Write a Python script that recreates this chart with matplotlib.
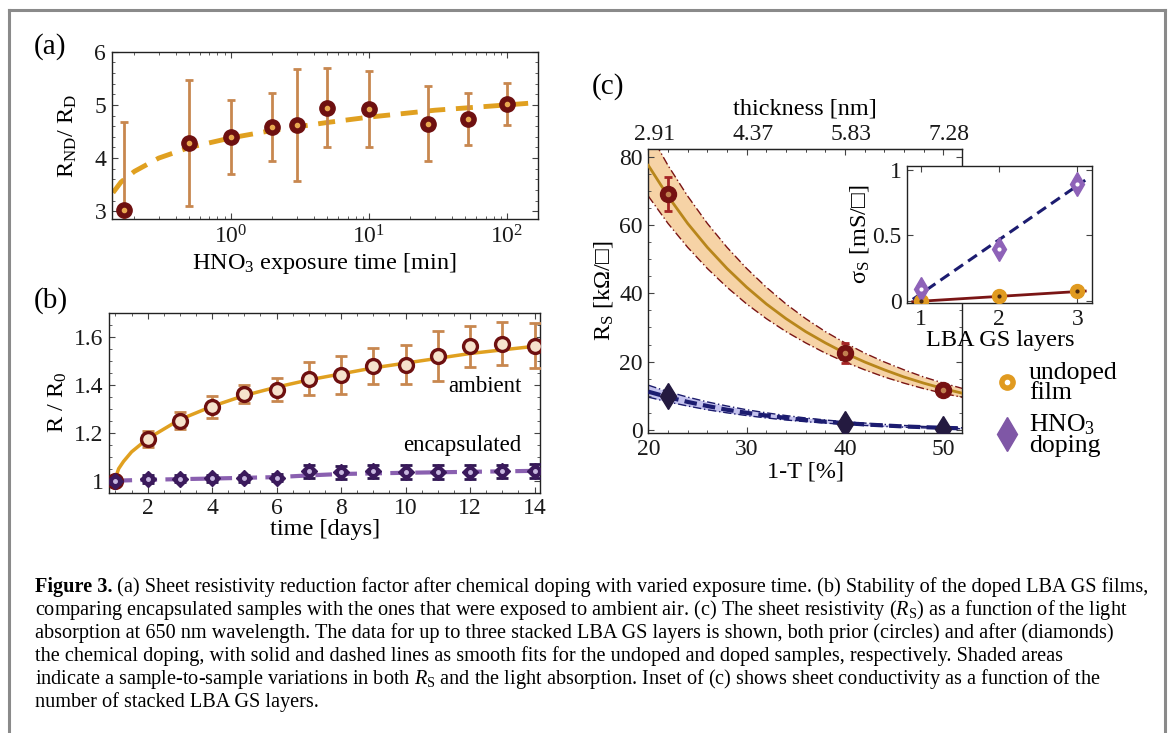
import numpy as np
import matplotlib
matplotlib.use('Agg')
import matplotlib.pyplot as plt
import matplotlib.transforms as mtransforms
from matplotlib.lines import Line2D
from matplotlib.ticker import FixedLocator, MultipleLocator, LogLocator, NullFormatter, FixedFormatter

plt.rcParams['font.family'] = ['Liberation Serif', 'DejaVu Sans']
plt.rcParams['mathtext.fontset'] = 'custom'
plt.rcParams['mathtext.rm'] = 'Liberation Serif'
plt.rcParams['mathtext.it'] = 'Liberation Serif:italic'
plt.rcParams['mathtext.bf'] = 'Liberation Serif:bold'

# ---------------- data ----------------
# (a) reduction factor vs HNO3 exposure time
a_time = [0.167, 0.5, 1, 2, 3, 5, 10, 27, 52, 100]
a_ratio = [3.03, 4.28, 4.40, 4.58, 4.62, 4.95, 4.92, 4.65, 4.73, 5.02]
a_err = [1.65, 1.18, 0.70, 0.64, 1.05, 0.74, 0.72, 0.70, 0.49, 0.40]
a_fit_time = [0.14, 0.16, 0.2, 0.3, 0.5, 1, 2, 5, 10, 30, 100, 160]
a_fit_ratio = [3.35, 3.55, 3.75, 4.0, 4.2, 4.38, 4.52, 4.67, 4.77, 4.9, 5.0, 5.04]

# (b) stability
b_days = [1, 2, 3, 4, 5, 6, 7, 8, 9, 10, 11, 12, 13, 14]
b_ambient = [1.0, 1.173, 1.25, 1.308, 1.36, 1.38, 1.425, 1.44, 1.478, 1.484, 1.519, 1.56, 1.571, 1.563]
b_ambient_err = [0.0, 0.033, 0.035, 0.046, 0.037, 0.048, 0.069, 0.078, 0.073, 0.082, 0.104, 0.085, 0.09, 0.095]
b_encaps = [1.0, 1.007, 1.008, 1.01, 1.01, 1.013, 1.039, 1.035, 1.039, 1.036, 1.036, 1.037, 1.039, 1.041]
b_encaps_err = [0.012, 0.015, 0.015, 0.015, 0.015, 0.015, 0.028, 0.028, 0.028, 0.028, 0.028, 0.028, 0.028, 0.028]
b_amb_fit_days = [1, 1.05, 1.1, 1.25, 1.5, 2, 3, 4, 5, 6, 7, 8, 9, 10, 11, 12, 13, 14]
b_amb_fit = [1.0, 1.03, 1.05, 1.08, 1.12, 1.175, 1.255, 1.31, 1.355, 1.39, 1.42, 1.445, 1.47, 1.49, 1.51, 1.53, 1.545, 1.56]
b_enc_fit_days = [1, 2, 4, 6, 7, 8, 10, 12, 14]
b_enc_fit = [1.0, 1.004, 1.009, 1.015, 1.022, 1.028, 1.033, 1.037, 1.041]

# (c) sheet resistance vs absorption
c_abs = [22, 40, 50]
c_undoped = [69, 22.6, 11.8]
c_undoped_err = [5, 2.9, 1.0]
c_doped = [9.8, 1.6, 0.3]
c_curve_abs = [20, 22, 24, 26, 28, 30, 32, 34, 36, 38, 40, 42, 44, 46, 48, 50, 52]
c_undoped_fit = [77.5, 68.5, 60.5, 53.5, 47.3, 41.8, 36.9, 32.6, 28.8, 25.5, 22.5, 19.9, 17.6, 15.5, 13.7, 12.1, 10.7]
c_undoped_hi = [87.7, 77.5, 68.5, 60.5, 53.5, 47.3, 41.8, 36.9, 32.6, 28.8, 25.5, 22.5, 19.9, 17.6, 15.5, 13.7, 12.1]
c_undoped_lo = [68.5, 60.5, 53.5, 47.3, 41.8, 36.9, 32.6, 28.8, 25.5, 22.5, 19.9, 17.6, 15.5, 13.7, 12.1, 10.7, 9.5]
c_doped_fit = [11.2, 9.6, 8.2, 7.0, 5.9, 5.0, 4.2, 3.5, 2.9, 2.4, 2.0, 1.6, 1.3, 1.0, 0.8, 0.6, 0.45]
c_doped_hi = [13.1, 11.2, 9.6, 8.2, 7.0, 5.9, 5.0, 4.2, 3.5, 2.9, 2.4, 2.0, 1.6, 1.3, 1.0, 0.8, 0.6]
c_doped_lo = [9.6, 8.2, 7.0, 5.9, 5.0, 4.2, 3.5, 2.9, 2.4, 2.0, 1.6, 1.3, 1.0, 0.8, 0.6, 0.45, 0.33]
c_top_ticks = [20, 30, 40, 50]
c_top_labels = ['2.91', '4.37', '5.83', '7.28']

# inset: sheet conductivity vs layers
ins_layers = [1, 2, 3]
ins_undoped = [0.005, 0.04, 0.075]
ins_doped = [0.09, 0.40, 0.89]
ins_fit_layers = [0.9, 3.1]
ins_undoped_fit = [-0.003, 0.078]
ins_doped_fit = [0.015, 0.92]

caption_lines = [
    ' (a) Sheet resistivity reduction factor after chemical doping with varied exposure time. (b) Stability of the doped LBA GS films,',
    'comparing encapsulated samples with the ones that were exposed to ambient air. (c) The sheet resistivity ($R_\\mathrm{S}$) as a function of the light',
    'absorption at 650 nm wavelength. The data for up to three stacked LBA GS layers is shown, both prior (circles) and after (diamonds)',
    'the chemical doping, with solid and dashed lines as smooth fits for the undoped and doped samples, respectively. Shaded areas',
    'indicate a sample-to-sample variations in both $R_\\mathrm{S}$ and the light absorption. Inset of (c) shows sheet conductivity as a function of the',
    'number of stacked LBA GS layers.',
]

# ---------------- figure ----------------
W, H = 1171, 733
fig = plt.figure(figsize=(W / 100, H / 100), dpi=100)


def ax_px(l, t, r, b):
    return fig.add_axes([l / W, 1 - b / H, (r - l) / W, (b - t) / H])


TICK_FS = 17
LAB_FS = 17.5


def style(ax):
    for s in ax.spines.values():
        s.set_color('#222222')
        s.set_linewidth(1.0)
    ax.tick_params(which='both', direction='in', top=True, right=True,
                   colors='#444444', labelcolor='#1a1a1a', labelsize=TICK_FS)
    ax.tick_params(which='major', length=4, width=0.8, pad=4)
    ax.tick_params(which='minor', length=2, width=0.6)


DARKRED = '#6e1010'
TAN = '#c8874f'
GOLD = '#e0a020'

# ---- (a)
axa = ax_px(111.7, 51.7, 537.7, 219.3)
style(axa)
axa.set_xscale('log')
axa.set_xlim(0.137, 167)
axa.set_ylim(2.85, 6)
axa.plot(a_fit_time, a_fit_ratio, color=GOLD, lw=3.5, dashes=(3.5, 2.2), zorder=2)
axa.errorbar(a_time, a_ratio, yerr=a_err, fmt='none', ecolor=TAN, elinewidth=2,
             capsize=3, capthick=2, zorder=3, clip_on=True)
axa.plot(a_time, a_ratio, 'o', ms=11, color=DARKRED, zorder=4)
axa.plot(a_time, a_ratio, 'o', ms=3, color='#e8a850', zorder=5)
axa.xaxis.set_major_locator(LogLocator(base=10, numticks=10))
axa.xaxis.set_minor_locator(LogLocator(base=10, subs=np.arange(2, 10), numticks=20))
axa.xaxis.set_minor_formatter(NullFormatter())
axa.yaxis.set_major_locator(MultipleLocator(1))
axa.yaxis.set_minor_locator(MultipleLocator(0.2))
axa.set_xlabel('HNO$_3$ exposure time [min]', fontsize=LAB_FS, labelpad=2)
axa.set_ylabel('R$_\\mathrm{ND}$/ R$_\\mathrm{D}$', fontsize=LAB_FS, labelpad=11)

# ---- (b)
axb = ax_px(109.3, 312.7, 540, 492.7)
style(axb)
axb.set_xlim(0.81, 14.17)
axb.set_ylim(0.95, 1.70)
axb.plot(b_amb_fit_days, b_amb_fit, color=GOLD, lw=2.5, zorder=2)
axb.plot(b_enc_fit_days, b_enc_fit, color='#8a60b0', lw=3, dashes=(4, 2), zorder=2)
axb.errorbar(b_days, b_ambient, yerr=b_ambient_err, fmt='none', ecolor=TAN,
             elinewidth=2, capsize=4, capthick=2, zorder=3)
axb.plot(b_days, b_ambient, 'o', ms=10, mfc='#f6e2cc', mec=DARKRED, mew=2.4, zorder=4)
axb.errorbar(b_days, b_encaps, yerr=b_encaps_err, fmt='none', ecolor='#2e1650',
             elinewidth=2, capsize=4, capthick=2, zorder=5)
axb.plot(b_days, b_encaps, 'D', ms=8, color='#3b1a5c', zorder=6)
axb.plot(b_days, b_encaps, 'o', ms=2.5, color='#c8b8e0', zorder=7)
axb.xaxis.set_major_locator(FixedLocator([2, 4, 6, 8, 10, 12, 14]))
axb.yaxis.set_major_locator(FixedLocator([1.0, 1.2, 1.4, 1.6]))
axb.yaxis.set_major_formatter(FixedFormatter(['1', '1.2', '1.4', '1.6']))
axb.xaxis.set_minor_locator(MultipleLocator(0.5))
axb.yaxis.set_minor_locator(MultipleLocator(0.05))
axb.text(13.59, 1.394, 'ambient', ha='right', va='center', fontsize=16.5)
axb.text(13.59, 1.145, 'encapsulated', ha='right', va='center', fontsize=16.5)
axb.set_xlabel('time [days]', fontsize=LAB_FS, labelpad=0)
axb.set_ylabel('R / R$_0$', fontsize=LAB_FS, labelpad=4)

# ---- (c)
axc = ax_px(648.3, 149, 962.3, 433.3)
style(axc)
axc.set_xlim(20, 51.93)
axc.set_ylim(-1, 82.3)
axc.fill_between(c_curve_abs, c_undoped_lo, c_undoped_hi, color='#f6d3a6', lw=0, zorder=1)
axc.plot(c_curve_abs, c_undoped_hi, color='#7a1515', lw=1.0, ls=(0, (6, 2, 1, 2)), zorder=2)
axc.plot(c_curve_abs, c_undoped_lo, color='#7a1515', lw=1.0, ls=(0, (6, 2, 1, 2)), zorder=2)
axc.plot(c_curve_abs, c_undoped_fit, color='#b8861b', lw=2, zorder=3)
axc.fill_between(c_curve_abs, c_doped_lo, c_doped_hi, color='#c4c2ee', lw=0, zorder=1)
axc.plot(c_curve_abs, c_doped_hi, color='#1c1c6c', lw=1.0, ls=(0, (6, 2, 1, 2)), zorder=2)
axc.plot(c_curve_abs, c_doped_lo, color='#1c1c6c', lw=1.0, ls=(0, (6, 2, 1, 2)), zorder=2)
axc.plot(c_curve_abs, c_doped_fit, color='#1c1c70', lw=3, dashes=(3, 1.5), zorder=3)
axc.errorbar(c_abs, c_undoped, yerr=c_undoped_err, fmt='none', ecolor='#a52525',
             elinewidth=2, capsize=3, capthick=2, zorder=4)
axc.plot(c_abs, c_undoped, 'o', ms=11.5, color='#761212', zorder=5)
axc.plot(c_abs, c_undoped, 'o', ms=3, color='#c08050', zorder=6)
axc.plot(c_abs, c_doped, 'd', ms=13, color='#241a40', zorder=5)
axc.xaxis.set_major_locator(FixedLocator([20, 30, 40, 50]))
axc.xaxis.set_minor_locator(MultipleLocator(2))
axc.yaxis.set_major_locator(FixedLocator([0, 20, 40, 60, 80]))
axc.yaxis.set_minor_locator(MultipleLocator(5))
axc.tick_params(top=False)
axc.set_xlabel('1-T [%]', fontsize=LAB_FS, labelpad=1)
axc.set_ylabel('R$_\\mathrm{S}$ [kΩ/□]', fontsize=LAB_FS, labelpad=3)
top = axc.secondary_xaxis('top')
top.set_xticks(c_top_ticks)
top.set_xticklabels(c_top_labels)
top.xaxis.set_minor_locator(MultipleLocator(2))
top.tick_params(which='both', direction='in', colors='#444444', labelcolor='#1a1a1a', labelsize=TICK_FS)
top.tick_params(which='major', length=4, pad=3)
top.tick_params(which='minor', length=2)
shift = mtransforms.ScaledTranslation(6 / 100, 0, fig.dpi_scale_trans)
for lbl in top.get_xticklabels():
    lbl.set_transform(lbl.get_transform() + shift)
top.set_xlabel('thickness [nm]', fontsize=LAB_FS, labelpad=7)

# ---- inset
axi = ax_px(907.3, 165.7, 1092.3, 303.3)
style(axi)
axi.set_zorder(10)
axi.set_facecolor('white')
axi.set_xlim(0.83, 3.19)
axi.set_ylim(-0.015, 1.03)
axi.plot(ins_fit_layers, ins_undoped_fit, color='#7a1515', lw=2, zorder=2)
axi.plot(ins_fit_layers, ins_doped_fit, color='#1c1c70', lw=2.2, dashes=(3.5, 2), zorder=2)
axi.plot(ins_layers, ins_undoped, 'o', ms=10, color='#e09a20', zorder=3)
axi.plot(ins_layers, ins_undoped, 'o', ms=2, color='#4a2a10', zorder=4)
axi.plot(ins_layers, ins_doped, 'd', ms=12, color='#8e62b8', zorder=3)
axi.plot(ins_layers, ins_doped, 'o', ms=2, color='white', zorder=4)
axi.xaxis.set_major_locator(FixedLocator([1, 2, 3]))
axi.yaxis.set_major_locator(FixedLocator([0, 0.5, 1]))
axi.yaxis.set_major_formatter(FixedFormatter(['0', '0.5', '1']))
axi.set_xlabel('LBA GS layers', fontsize=LAB_FS, labelpad=0)
axi.set_ylabel('σ$_\\mathrm{S}$ [mS/□]', fontsize=LAB_FS, labelpad=1)

# ---- legend (outside, right of panel c)
def fpt(x, y):
    return x / W, 1 - y / H

lx, ly = fpt(1007, 382)
fig.add_artist(Line2D([lx], [ly], marker='o', ms=11, color='#e09a20', transform=fig.transFigure))
fig.add_artist(Line2D([lx], [ly], marker='o', ms=3, color='white', transform=fig.transFigure))
lx2, ly2 = fpt(1007, 434)
fig.add_artist(Line2D([lx2], [ly2], marker='d', ms=17, color='#7f57a6', transform=fig.transFigure))
tx, ty = fpt(1029, 383)
fig.text(tx, ty, 'undoped\nfilm', ha='left', va='center', fontsize=18.5, linespacing=0.9)
tx, ty = fpt(1029, 435)
fig.text(tx, ty, 'HNO$_3$\ndoping', ha='left', va='center', fontsize=18.5, linespacing=0.9)

# ---- panel labels
for lab, (x, y) in [('(a)', (50, 47)), ('(b)', (51, 301)), ('(c)', (608, 87))]:
    px, py = fpt(x, y)
    fig.text(px, py, lab, ha='center', va='center', fontsize=21)

# ---- frame
gray = '#8a8a8a'
fig.add_artist(Line2D([9 / W, 9 / W], [1 - 10 / H, 0], color=gray, lw=2.2, transform=fig.transFigure))
fig.add_artist(Line2D([9 / W, 1165 / W], [1 - 10 / H, 1 - 10 / H], color=gray, lw=2.2, transform=fig.transFigure))
fig.add_artist(Line2D([1165 / W, 1165 / W], [1 - 10 / H, 0], color=gray, lw=2.2, transform=fig.transFigure))

# ---- caption
renderer = fig.canvas.get_renderer()
cap_left = 35
cap_right = 1150
probe_fs = 10
tb = fig.text(0, 0, 'Figure 3.', fontsize=probe_fs, fontweight='bold')
tr = fig.text(0, 0, caption_lines[0], fontsize=probe_fs)
wb = tb.get_window_extent(renderer).width
wr = tr.get_window_extent(renderer).width
tb.remove(); tr.remove()
cap_fs = probe_fs * (cap_right - cap_left) / (wb + wr)
line_y = [587, 610, 633, 656, 679, 702]
px, py = fpt(cap_left, line_y[0])
t0 = fig.text(px, py, 'Figure 3.', fontsize=cap_fs, fontweight='bold', va='center', ha='left')
wb2 = t0.get_window_extent(renderer).width
fig.text((cap_left + wb2) / W, py, caption_lines[0], fontsize=cap_fs, va='center', ha='left')
for line, y in zip(caption_lines[1:], line_y[1:]):
    px, py = fpt(cap_left, y)
    fig.text(px, py, line, fontsize=cap_fs, va='center', ha='left')

fig.savefig('out.png', dpi=100)
